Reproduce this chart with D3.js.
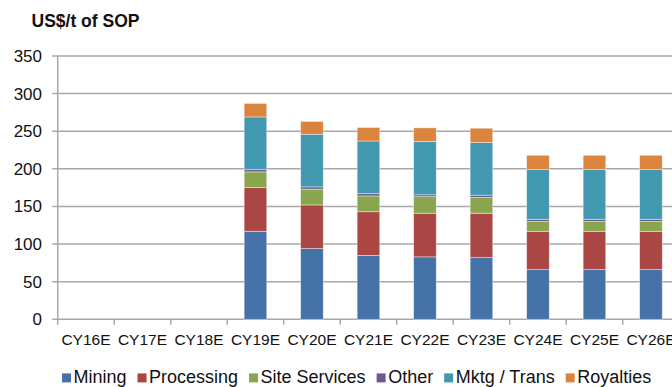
<!DOCTYPE html>
<html>
<head>
<meta charset="utf-8">
<script src="https://cdn.jsdelivr.net/npm/d3@7/dist/d3.min.js"></script>
<style>
  html, body { margin: 0; padding: 0; background: #fff; overflow: hidden; }
  svg { display: block; font-family: "Liberation Sans", Arial, sans-serif; }
</style>
</head>
<body>
<svg id="chart" width="672" height="387"></svg>
<script>
// Cost build-up per year, US$ per tonne of SOP
const years = ["CY16E","CY17E","CY18E","CY19E","CY20E","CY21E","CY22E","CY23E","CY24E","CY25E","CY26E"];
const seriesNames = ["Mining","Processing","Site Services","Other","Mktg / Trans","Royalties"];
const seriesColors = ["#4572A7","#AA4643","#89A54E","#71588F","#4198AF","#DB843D"];
const mining       = [0, 0, 0, 117, 94, 85, 83, 82, 66, 66, 66];
const processing   = [0, 0, 0, 58, 58, 58, 58, 59, 51, 51, 51];
const siteServices = [0, 0, 0, 21, 21, 21, 22, 21, 13, 13, 13];
const other        = [0, 0, 0, 3, 3, 3, 2.5, 3, 3, 3, 3];
const mktgTrans    = [0, 0, 0, 70, 70, 70, 71, 70, 66, 66, 66];
const royalties    = [0, 0, 0, 18, 17, 18, 18, 19, 19, 19, 19];
const yTicks = [0, 50, 100, 150, 200, 250, 300, 350];
const yTitle = "US$/t of SOP";

const seriesValues = [mining, processing, siteServices, other, mktgTrans, royalties];
const rows = years.map((yr, i) => {
  const r = { year: yr };
  seriesNames.forEach((s, k) => { r[s] = seriesValues[k][i]; });
  return r;
});

const svg = d3.select("#chart");
const plotLeft = 57.7, plotRight = 679.2, plotTop = 56, plotBottom = 319.3;

const x = d3.scaleBand().domain(years).range([plotLeft, plotRight]).paddingInner(0.6).paddingOuter(0.3);
const y = d3.scaleLinear().domain([0, 350]).range([plotBottom, plotTop]);

const gridColor = "#a8a8a8";

// horizontal gridlines with short left ticks
svg.append("g").selectAll("line").data(yTicks).join("line")
  .attr("x1", plotLeft - 5.5).attr("x2", 672)
  .attr("y1", d => y(d)).attr("y2", d => y(d))
  .attr("stroke", gridColor).attr("stroke-width", 1.5);

// y axis line
svg.append("line")
  .attr("x1", plotLeft).attr("x2", plotLeft).attr("y1", plotTop).attr("y2", plotBottom)
  .attr("stroke", gridColor).attr("stroke-width", 1.5);

// x tick marks at category boundaries
const step = x.step();
const bounds = d3.range(years.length + 1).map(i => plotLeft + i * step);
svg.append("g").selectAll("line").data(bounds).join("line")
  .attr("x1", d => d).attr("x2", d => d)
  .attr("y1", plotBottom).attr("y2", plotBottom + 5.5)
  .attr("stroke", gridColor).attr("stroke-width", 1.5);

// y labels
svg.append("g").selectAll("text").data(yTicks).join("text")
  .attr("x", 42).attr("y", d => y(d))
  .attr("dy", "0.35em")
  .attr("text-anchor", "end")
  .attr("font-size", 17).attr("fill", "#111")
  .text(d => d);

// x labels
svg.append("g").selectAll("text").data(years).join("text")
  .attr("x", d => x(d) + x.bandwidth() / 2).attr("y", 345)
  .attr("text-anchor", "middle")
  .attr("font-size", 15.5).attr("fill", "#111")
  .text(d => d);

// title
svg.append("text")
  .attr("x", 31.5).attr("y", 27)
  .attr("font-size", 17.5).attr("font-weight", "bold").attr("fill", "#111")
  .text(yTitle);

// stacked bars
const stack = d3.stack().keys(seriesNames)(rows);
svg.append("g").selectAll("g").data(stack).join("g")
  .attr("fill", (d, i) => seriesColors[i])
  .selectAll("rect").data(d => d.filter(p => p[1] - p[0] > 0)).join("rect")
  .attr("x", d => x(d.data.year))
  .attr("width", x.bandwidth())
  .attr("y", d => y(d[1]))
  .attr("height", d => y(d[0]) - y(d[1]))
  .attr("stroke", "rgba(255,255,255,0.55)")
  .attr("stroke-width", 0.75);

// legend
const legend = svg.append("g");
let lx = 62;
seriesNames.forEach((name, i) => {
  legend.append("rect")
    .attr("x", lx).attr("y", 373.4).attr("width", 9).attr("height", 9)
    .attr("fill", seriesColors[i]);
  const t = legend.append("text")
    .attr("x", lx + 11.5).attr("y", 383.3)
    .attr("font-size", 18).attr("fill", "#111")
    .text(name);
  lx += 11.5 + t.node().getComputedTextLength() + 11;
});
</script>
</body>
</html>
